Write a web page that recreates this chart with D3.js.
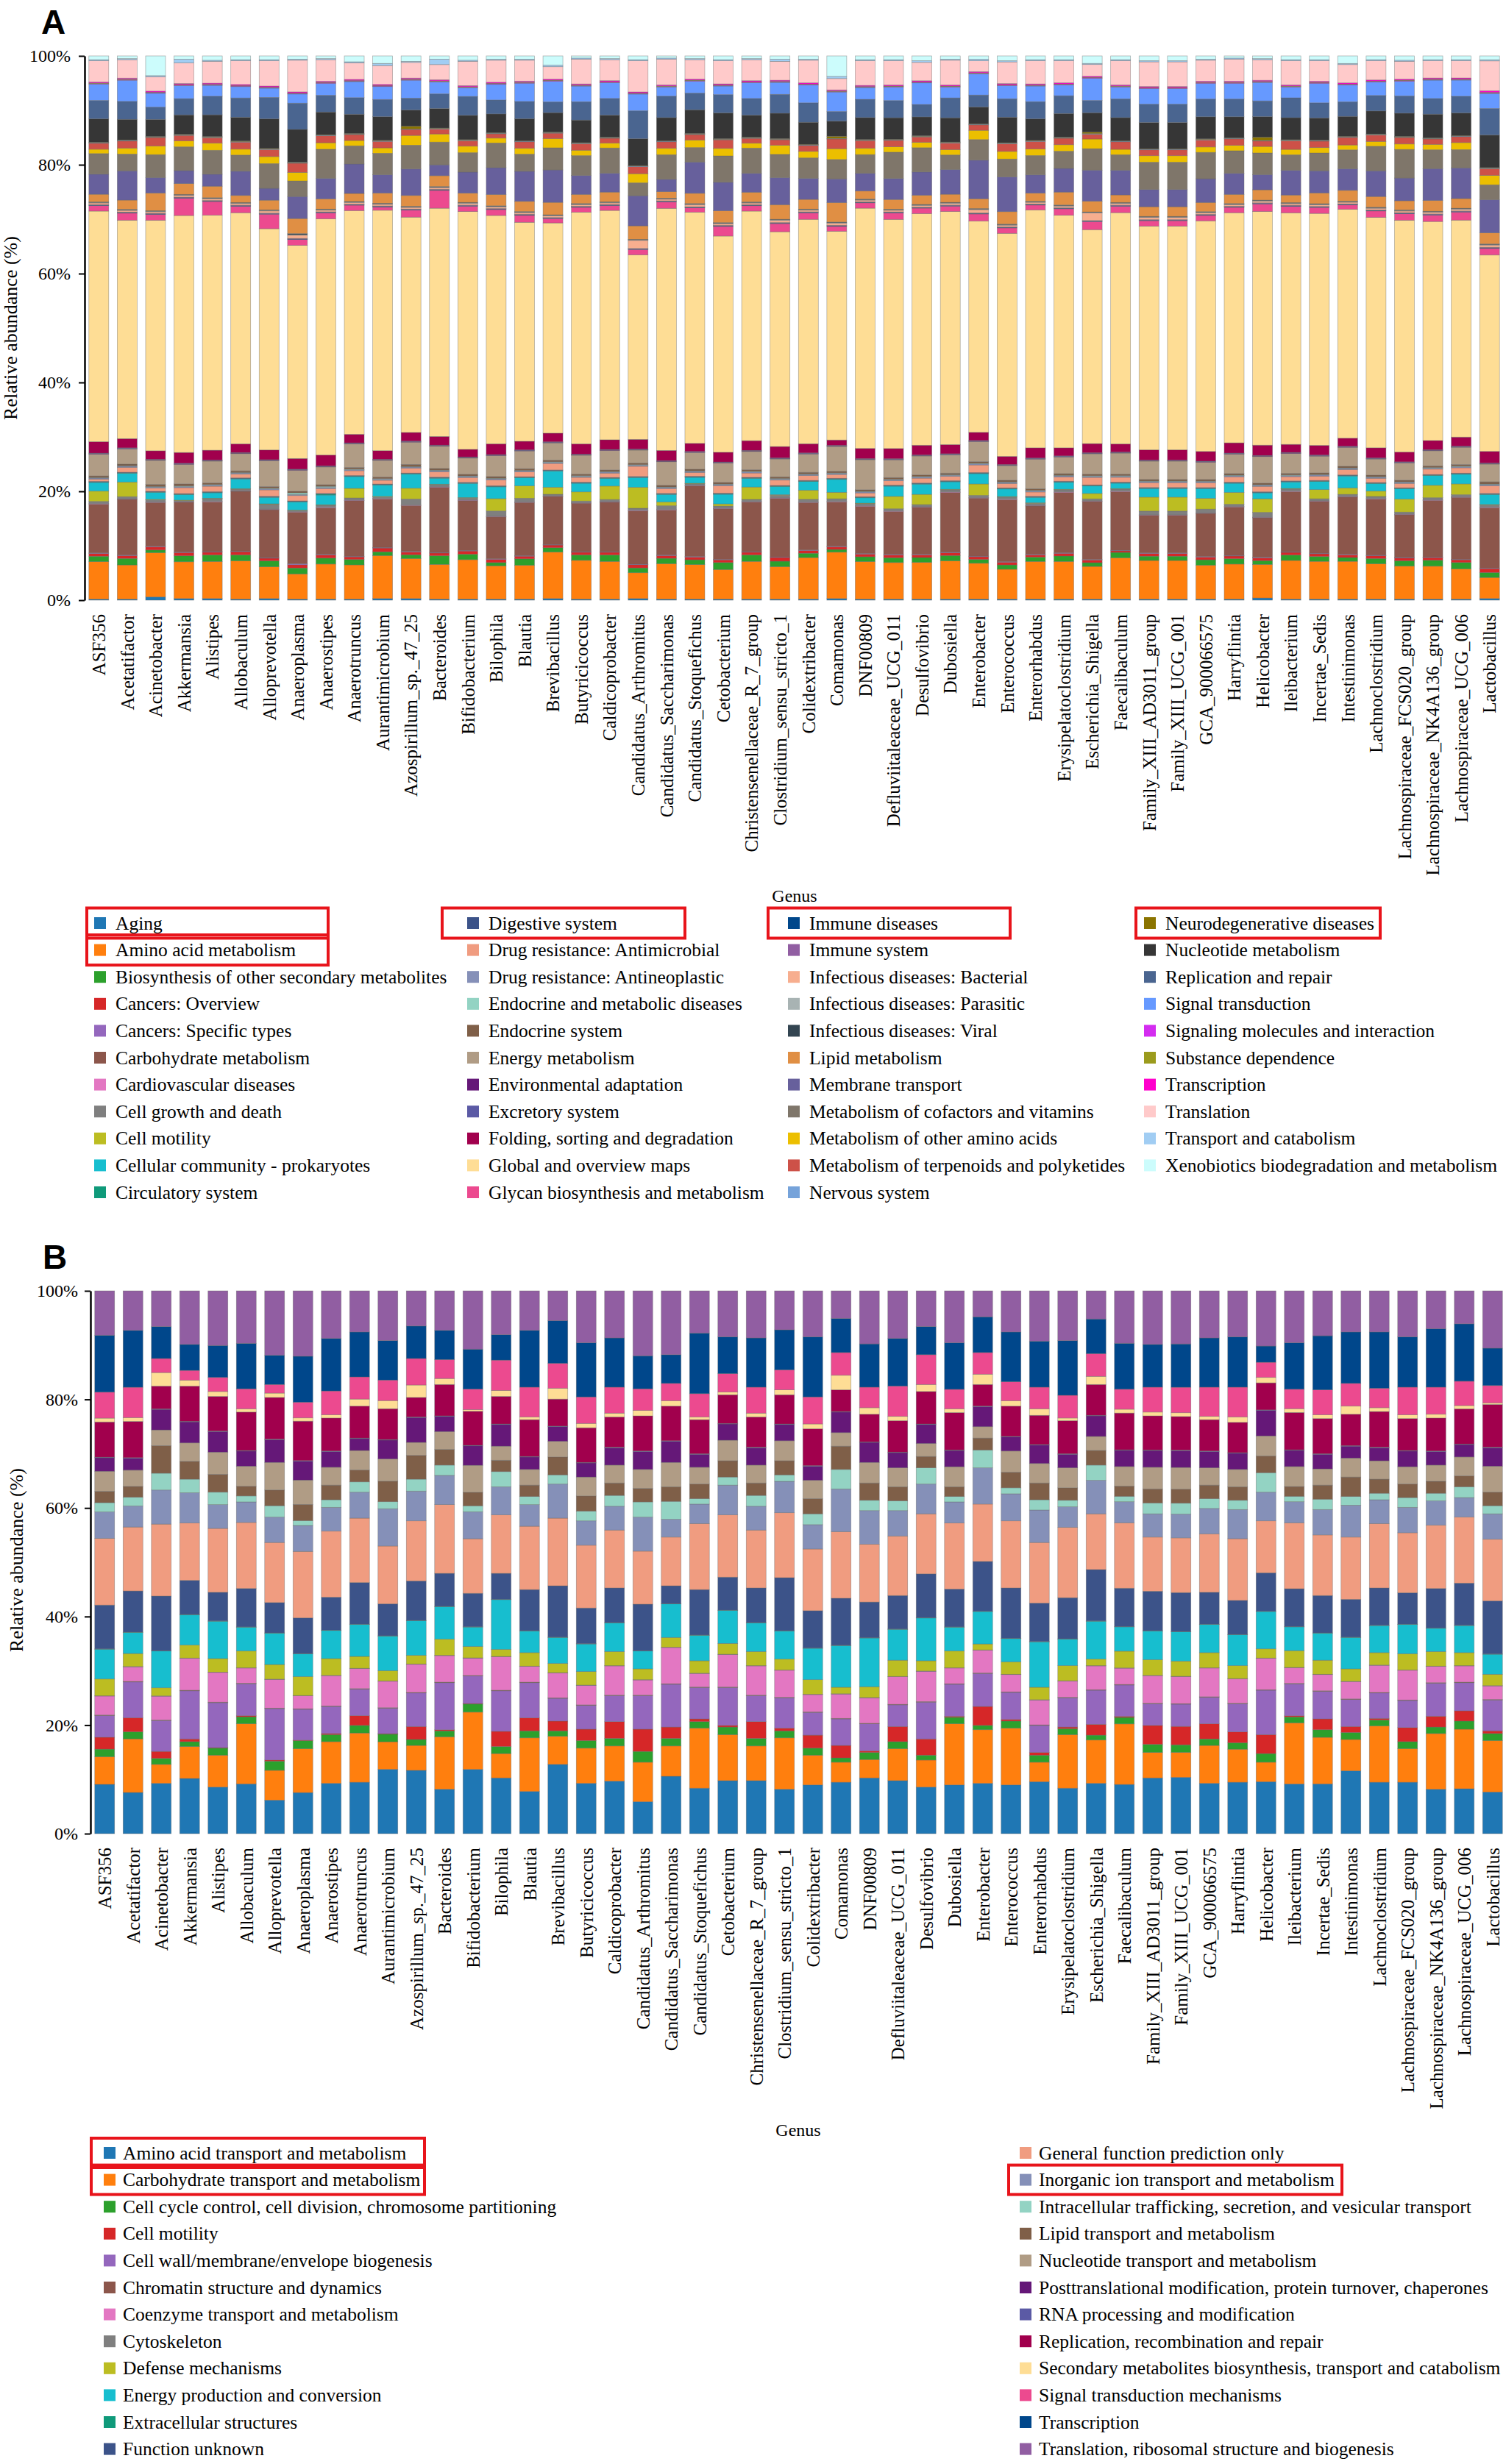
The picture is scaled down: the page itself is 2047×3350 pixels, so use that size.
<!DOCTYPE html>
<html>
<head>
<meta charset="utf-8">
<script src="https://cdn.jsdelivr.net/npm/d3@7"></script>
<style>
  body { margin: 0; background: #fff; }
  svg text { font-family: "Liberation Serif", "Times New Roman", serif; fill: #000; }
</style>
</head>
<body>
<svg id="chart" width="2047" height="3350"></svg>
<script>
// genera on the x axis (both panels)
var genera = ["ASF356","Acetatifactor","Acinetobacter","Akkermansia","Alistipes","Allobaculum","Alloprevotella","Anaeroplasma","Anaerostipes","Anaerotruncus","Aurantimicrobium","Azospirillum_sp._47_25","Bacteroides","Bifidobacterium","Bilophila","Blautia","Brevibacillus","Butyricicoccus","Caldicoprobacter","Candidatus_Arthromitus","Candidatus_Saccharimonas","Candidatus_Stoquefichus","Cetobacterium","Christensenellaceae_R_7_group","Clostridium_sensu_stricto_1","Colidextribacter","Comamonas","DNF00809","Defluviitaleaceae_UCG_011","Desulfovibrio","Dubosiella","Enterobacter","Enterococcus","Enterorhabdus","Erysipelatoclostridium","Escherichia_Shigella","Faecalibaculum","Family_XIII_AD3011_group","Family_XIII_UCG_001","GCA_900066575","Harryflintia","Helicobacter","Ileibacterium","Incertae_Sedis","Intestinimonas","Lachnoclostridium","Lachnospiraceae_FCS020_group","Lachnospiraceae_NK4A136_group","Lachnospiraceae_UCG_006","Lactobacillus"];

var tickValues = [0, 0.2, 0.4, 0.6, 0.8, 1];

/* ---------- panel A : KEGG level 2 ---------- */
var keggCategories = ["Aging","Amino acid metabolism","Biosynthesis of other secondary metabolites","Cancers: Overview","Cancers: Specific types","Carbohydrate metabolism","Cardiovascular diseases","Cell growth and death","Cell motility","Cellular community - prokaryotes","Circulatory system",
  "Digestive system","Drug resistance: Antimicrobial","Drug resistance: Antineoplastic","Endocrine and metabolic diseases","Endocrine system","Energy metabolism","Environmental adaptation","Excretory system","Folding, sorting and degradation","Global and overview maps","Glycan biosynthesis and metabolism",
  "Immune diseases","Immune system","Infectious diseases: Bacterial","Infectious diseases: Parasitic","Infectious diseases: Viral","Lipid metabolism","Membrane transport","Metabolism of cofactors and vitamins","Metabolism of other amino acids","Metabolism of terpenoids and polyketides","Nervous system",
  "Neurodegenerative diseases","Nucleotide metabolism","Replication and repair","Signal transduction","Signaling molecules and interaction","Substance dependence","Transcription","Translation","Transport and catabolism","Xenobiotics biodegradation and metabolism"];

var keggColors = ["#1f77b4","#ff7f0e","#2ca02c","#d62728","#9467bd","#8c564b","#e377c2","#7f7f7f","#bcbd22","#17becf","#0f9a7a",
  "#3c5389","#f09c80","#8590b8","#93d3c3","#7f5f48","#b09c85","#651878","#5b5aa5","#a1004d","#fedd95","#ec4a8f",
  "#00478b","#915ea2","#f7ae8f","#a8b3b3","#334551","#e08f44","#67609c","#7f766a","#ecbf00","#cd5148","#76a3da",
  "#8b7400","#363636","#4a6590","#6699ff","#d42cf0","#9b9b1d","#ff00cc","#ffcaca","#a1cdf3","#ccfcfc"];

var aging = [.2,.2,.6,.3,.3,.2,.3,.2,.2,.2,.3,.3,.2,.2,.2,.2,.3,.2,.2,.3,.2,.2,.2,.2,.2,.2,.3,.2,.2,.2,.2,.2,.2,.2,.2,.2,.2,.2,.2,.2,.2,.4,.2,.2,.2,.2,.2,.2,.2,.3];
var aminoAcid = [6.9,6.3,8.3,6.8,6.8,7.1,5.9,4.7,6.5,6.4,8.0,7.4,6.4,7.3,6.2,6.3,8.6,7.2,7.0,4.8,6.6,6.4,5.5,7.0,6.0,7.7,8.6,7.0,6.8,6.8,7.1,6.6,5.5,7.0,7.0,6.1,7.7,7.2,7.2,6.3,6.5,6.2,7.2,7.0,7.0,6.6,6.1,6.1,5.6,3.8];
var biosynthesis = [1.0,1.2,.5,1.1,1.2,1.1,1.1,1.1,1.1,1.0,.7,.7,1.6,1.0,.6,1.2,.8,1.0,1.2,.9,1.0,.9,1.3,1.2,1.0,.8,.5,.9,.9,.9,1.0,.7,.8,.8,1.0,.7,1.0,.8,.8,1.0,1.0,.7,1.0,.9,.7,1.0,1.0,1.1,1.2,.9];
var cancersOverview = [.5,.5,.6,.6,.5,.6,.5,.6,.6,.5,.7,.5,.5,.6,.6,.5,.5,.5,.5,.6,.5,.5,.5,.5,.7,.5,.5,.5,.5,.5,.5,.5,.5,.4,.5,.5,.3,.5,.5,.5,.5,.5,.5,.5,.5,.5,.5,.5,.5,.7];
var cancersSpecific = [.1,.1,.1,.1,.1,.1,.1,.2,.1,.1,.1,.1,.1,.1,.1,.1,.1,.1,.1,.1,.1,.1,.1,.1,.1,.1,.1,.1,.1,.1,.1,.1,.1,.1,.1,.1,.1,.1,.1,.1,.1,.1,.1,.1,.1,.1,.1,.1,.1,.1];
var carbohydrate = [9.0,10.3,8.2,9.2,9.1,11.1,8.9,9.6,8.6,10.4,9.0,8.5,12.0,9.2,7.8,9.9,8.9,9.0,9.2,9.9,8.4,13.1,9.4,9.2,10.8,8.8,8.2,8.8,8.0,8.7,11.1,10.7,11.4,9.0,11.2,10.8,10.9,7.0,7.0,8.0,9.0,7.3,11.2,9.6,10.6,10.5,7.9,10.5,11.5,10.9];
var cardiovascular = [.1,.1,.1,.1,.1,.1,.1,.1,.1,.1,.1,.1,.1,.1,.1,.1,.1,.1,.1,.1,.1,.1,.1,.1,.1,.1,.1,.1,.1,.1,.1,.1,.1,.1,.1,.1,.1,.1,.1,.1,.1,.1,.1,.1,.1,.1,.1,.1,.1,.1];
var cellGrowth = [.4,.4,.4,.2,.5,.3,.9,.2,.4,.4,.3,1.1,.4,.4,1.0,.7,.3,.3,.4,.4,.7,.3,.4,.4,.5,.5,.5,.4,.4,.4,.4,.4,.4,.4,.4,.4,.4,.7,.7,.7,.4,.9,.4,.4,.4,.4,.4,.4,.4,.4];
var cellMotilityA = [1.9,2.7,.1,.1,.1,.1,.1,.1,.1,1.8,.1,2.0,.1,.1,2.3,2.3,1.3,1.7,2.5,3.9,.7,.1,.4,2.3,.1,1.7,1.2,.1,2.3,1.9,.1,2.1,.1,.1,.1,1.0,.1,2.6,2.6,2.0,2.2,2.5,.1,1.7,1.2,1.0,2.4,2.3,2.0,.1];
var cellularCommunity = [1.6,1.6,1.3,1.0,1.0,1.8,1.2,1.5,1.8,2.2,2.1,2.6,1.1,2.6,2.2,1.5,3.0,1.6,1.4,1.8,1.4,1.1,1.8,1.6,1.5,1.6,2.4,1.0,1.9,1.9,1.4,1.9,1.4,1.0,1.3,1.4,1.0,1.6,1.6,1.8,1.7,1.1,1.2,1.5,2.2,1.4,1.9,1.8,1.8,1.8];
var circulatory = [.1,.1,.1,.1,.1,.1,.1,.1,.2,.1,.1,.1,.1,.1,.1,.1,.1,.1,.1,.1,.1,.1,.1,.1,.1,.1,.1,.1,.1,.1,.1,.1,.1,.1,.1,.1,.1,.1,.1,.1,.1,.1,.1,.1,.1,.1,.1,.1,.1,.1];
var digestive = [.1,.1,.1,.1,.1,.1,.1,.1,.1,.1,.1,.1,.1,.1,.1,.1,.1,.1,.1,.1,.1,.1,.1,.1,.1,.1,.1,.1,.1,.1,.1,.1,.1,.1,.1,.1,.1,.1,.1,.1,.1,.1,.1,.1,.1,.1,.1,.1,.1,.1];
var drugAntimicrobial = [.4,.9,.6,1.1,1.0,.7,1.2,1.0,.9,.9,.7,.9,1.0,.9,1.1,.9,1.2,.9,.8,1.9,.9,.7,1.4,.8,1.0,.9,.7,.7,.8,.9,.8,1.4,.8,.8,.8,1.4,.9,.9,.9,.9,1.0,1.0,.8,.8,1.0,.8,.8,1.0,1.0,1.4];
var drugAntineoplastic = [.2,.2,.2,.2,.2,.2,.2,.2,.2,.2,.2,.2,.2,.2,.2,.2,.2,.2,.2,.2,.2,.2,.2,.2,.2,.2,.2,.2,.2,.2,.2,.2,.2,.2,.2,.2,.2,.2,.2,.2,.2,.2,.2,.2,.2,.2,.2,.2,.2,.2];
var endocrineMetabolic = [.1,.1,.1,.1,.1,.1,.1,.3,.2,.1,.1,.1,.1,.1,.1,.1,.1,.1,.1,.1,.1,.1,.1,.1,.1,.1,.1,.1,.1,.1,.1,.1,.1,.1,.1,.1,.1,.1,.1,.1,.1,.1,.1,.1,.1,.1,.1,.1,.1,.1];
var endocrineSystem = [.3,.3,.4,.4,.3,.3,.3,.3,.3,.3,.3,.4,.3,.3,.3,.3,.3,.3,.3,.3,.3,.3,.3,.3,.3,.3,.3,.3,.3,.3,.3,.3,.3,.3,.3,.3,.3,.3,.3,.3,.3,.3,.3,.3,.3,.3,.3,.3,.3,.4];
var energyA = [4.0,2.8,4.5,3.6,4.0,3.2,4.8,3.9,3.3,4.4,3.1,4.1,4.1,3.0,3.9,3.3,3.2,3.5,3.6,2.4,4.4,3.1,3.6,3.4,3.3,3.4,4.6,5.6,3.3,3.5,3.4,3.7,2.7,5.5,3.1,3.8,3.9,3.4,3.4,3.2,3.6,4.9,3.7,3.1,3.5,3.0,3.2,2.8,3.2,3.2];
var environmental = [.1,.1,.1,.1,.1,.1,.1,.1,.1,.1,.1,.1,.1,.1,.1,.1,.1,.1,.1,.1,.1,.1,.1,.1,.1,.1,.1,.1,.1,.1,.1,.1,.1,.1,.1,.1,.1,.1,.1,.1,.1,.1,.1,.1,.1,.1,.1,.1,.1,.1];
var excretory = [.1,.1,.1,.1,.1,.1,.1,.1,.1,.1,.1,.1,.1,.1,.1,.1,.1,.1,.1,.1,.1,.1,.1,.1,.1,.1,.1,.1,.1,.1,.1,.1,.1,.1,.1,.1,.1,.1,.1,.1,.1,.1,.1,.1,.1,.1,.1,.1,.1,.1];
var folding = [2.1,1.7,1.6,2.0,1.8,1.6,1.8,2.0,2.0,1.6,1.6,1.6,1.6,1.4,2.0,1.6,1.6,1.9,1.8,1.8,1.9,1.5,1.8,1.8,2.1,1.7,1.0,1.9,1.9,1.8,1.7,1.5,1.5,1.9,1.5,1.7,1.5,1.9,1.9,1.8,1.9,1.9,1.5,1.8,1.5,1.9,1.8,1.7,1.7,2.1];
var globalMaps = [42.5,40.3,43.2,43.8,43.1,42.9,41.1,39.7,43.8,41.8,44.7,39.8,42.1,44.0,42.5,40.8,38.9,43.0,42.6,34.3,45.1,42.9,40.2,42.6,39.7,41.6,38.7,44.8,42.6,42.9,43.3,38.9,41.1,44.2,43.2,39.9,43.1,41.7,41.7,42.8,42.7,43.1,43.1,43.0,42.4,43.1,42.9,40.6,40.3,35.5];
var glycan = [1.0,1.3,1.1,3.2,2.5,1.2,2.7,1.1,1.1,1.0,.6,1.3,3.3,1.0,1.1,1.3,.8,.9,.9,1.0,1.2,.8,1.8,1.0,1.5,1.2,.9,1.0,1.2,1.0,1.0,1.3,1.0,.9,1.2,1.5,1.2,1.0,1.0,1.0,1.0,1.4,1.2,1.1,.8,1.2,1.2,1.2,1.5,1.2];
var immuneDiseases = [.1,.1,.1,.1,.1,.1,.1,.1,.1,.1,.1,.1,.1,.1,.1,.1,.1,.1,.1,.1,.1,.1,.1,.1,.1,.1,.1,.1,.1,.1,.1,.1,.1,.1,.1,.1,.1,.1,.1,.1,.1,.1,.1,.1,.1,.1,.1,.1,.1,.1];
var immuneSystem = [.1,.1,.1,.1,.1,.1,.1,.1,.1,.1,.1,.1,.1,.1,.1,.1,.1,.1,.1,.1,.1,.1,.1,.1,.1,.1,.1,.1,.1,.1,.1,.1,.1,.1,.1,.1,.1,.1,.1,.1,.1,.1,.1,.1,.1,.1,.1,.1,.1,.1];
var infBacterial = [.3,.3,.3,.3,.3,.3,.4,.6,.3,.3,.3,.3,.3,.3,.3,.3,.3,.3,.3,1.5,.3,.4,.3,.3,.4,.3,.4,.3,.3,.3,.3,.6,.3,.3,.3,1.4,.3,.4,.4,.3,.3,.3,.3,.3,.3,.3,.3,.3,.3,.4];
var infParasitic = [.1,.1,.1,.1,.1,.1,.1,.1,.1,.1,.1,.1,.1,.1,.1,.1,.1,.1,.1,.1,.1,.1,.1,.1,.1,.1,.1,.1,.1,.1,.1,.1,.1,.1,.1,.1,.1,.1,.1,.1,.1,.1,.1,.1,.1,.1,.1,.1,.1,.1];
var infViral = [.1,.1,.1,.1,.1,.1,.1,.2,.1,.1,.1,.1,.1,.1,.1,.1,.1,.1,.1,.1,.1,.1,.1,.1,.1,.1,.1,.1,.1,.1,.1,.1,.1,.1,.1,.1,.1,.1,.1,.1,.1,.1,.1,.1,.1,.1,.1,.1,.1,.1];
var lipidA = [1.4,1.7,3.3,2.0,2.1,1.3,1.8,2.8,1.9,1.5,1.9,2.0,2.0,1.7,2.1,1.9,2.3,1.7,1.8,2.5,1.2,1.9,2.2,1.8,2.7,1.8,3.6,1.5,1.8,1.7,1.5,1.8,2.3,1.5,2.4,2.0,1.4,1.8,1.8,1.7,1.7,1.9,1.4,2.0,2.0,2.0,1.7,2.0,1.8,2.0];
var membrane = [3.7,5.4,2.9,2.4,2.2,4.5,2.2,4.1,3.8,5.5,3.4,4.9,2.0,3.9,5.0,5.6,6.0,3.5,3.5,5.6,2.3,5.8,5.3,3.5,5.0,3.9,4.4,3.3,3.9,4.3,4.6,7.1,6.4,3.4,4.4,5.8,4.6,3.2,3.2,4.4,3.9,2.8,4.6,4.1,4.0,4.8,4.2,5.9,5.7,6.0];
var cofactors = [3.8,3.1,4.3,4.4,4.4,3.0,4.6,2.9,5.4,3.4,4.0,4.4,4.2,3.6,4.6,3.2,4.1,3.7,4.7,2.4,4.6,2.7,4.9,4.7,4.3,3.8,3.6,3.5,4.9,4.5,2.7,3.8,3.3,3.6,3.2,4.0,2.9,5.1,5.1,4.9,4.2,4.0,2.9,3.3,3.5,4.6,5.3,3.5,3.4,2.7];
var otherAminoAcids = [.8,1.1,1.6,1.1,1.3,1.1,1.3,1.6,1.2,1.0,1.0,1.8,1.5,1.2,.9,1.1,1.7,1.0,.9,1.7,1.2,1.4,1.4,.9,1.7,1.2,2.0,1.2,1.0,1.0,1.0,1.7,1.4,1.2,1.2,1.8,1.0,1.2,1.2,1.0,1.0,1.2,1.0,1.0,.9,.9,1.0,1.0,1.3,1.7];
var terpenoids = [1.1,1.3,1.6,1.0,1.0,1.3,1.3,1.7,1.3,1.1,1.2,1.1,.9,1.0,.8,1.2,1.0,1.2,.9,1.3,1.2,1.0,1.6,.9,1.0,1.1,1.8,1.4,1.2,1.0,1.2,1.0,1.4,1.4,1.2,.9,1.4,1.1,1.1,1.3,1.2,1.0,1.6,1.2,1.4,1.2,1.2,1.0,1.1,1.2];
var nervous = [.1,.1,.1,.1,.1,.1,.1,.1,.1,.1,.1,.1,.1,.1,.1,.1,.1,.1,.1,.1,.1,.1,.1,.1,.1,.1,.1,.1,.1,.1,.1,.1,.1,.1,.1,.1,.1,.1,.1,.1,.1,.1,.1,.1,.1,.1,.1,.1,.1,.1];
var neurodegenerative = [.1,.1,.1,.1,.1,.1,.1,.1,.1,.1,.1,.5,.1,.1,.1,.1,.1,.1,.1,.1,.1,.1,.1,.1,.1,.1,.4,.1,.1,.1,.1,.1,.1,.1,.1,.3,.1,.1,.1,.1,.1,.6,.1,.1,.1,.1,.1,.1,.1,.1];
var nucleotideA = [4.3,3.8,3.2,3.6,4.0,4.4,5.5,6.1,4.2,3.6,4.4,3.0,3.6,4.5,3.5,4.1,3.6,4.2,4.1,5.0,4.3,4.4,4.8,4.1,4.7,4.1,2.8,4.1,4.0,3.5,4.5,3.1,4.7,4.0,4.4,3.6,4.3,4.9,4.9,4.1,3.9,3.8,4.1,4.1,3.7,4.3,4.3,4.4,4.2,5.9];
var replicationA = [3.4,3.3,2.3,3.0,3.4,3.6,4.0,4.9,3.1,3.1,3.2,2.2,2.7,3.5,2.6,3.2,2.0,3.4,3.1,5.2,4.0,3.1,3.4,3.1,3.5,3.6,1.8,3.4,3.2,2.3,3.7,2.2,3.4,3.2,3.3,2.3,3.5,3.4,3.4,3.3,3.3,2.9,3.7,2.8,2.7,2.9,3.2,2.9,3.1,4.8];
var signalTransduction = [3.0,3.9,2.6,2.4,2.0,2.1,1.7,1.7,2.2,3.0,2.4,3.3,2.2,1.6,2.9,3.4,3.8,2.9,2.9,3.1,1.7,2.2,1.6,2.9,2.2,3.3,3.6,2.2,2.5,4.0,2.0,3.9,2.4,2.9,2.0,4.1,2.2,2.9,2.9,2.9,2.9,3.4,2.0,3.6,3.1,2.5,2.7,3.4,3.0,2.7];
var signalingMolecules = [.1,.1,.1,.1,.1,.1,.1,.1,.1,.1,.1,.1,.1,.1,.1,.1,.1,.1,.1,.1,.1,.1,.1,.1,.1,.1,.1,.1,.1,.1,.1,.1,.1,.1,.1,.1,.1,.1,.1,.1,.1,.1,.1,.1,.1,.1,.1,.1,.1,.1];
var substance = [.1,.1,.1,.1,.1,.1,.1,.1,.1,.1,.1,.1,.1,.1,.1,.1,.1,.1,.1,.1,.1,.1,.1,.1,.1,.1,.1,.1,.1,.1,.1,.1,.1,.1,.1,.1,.1,.1,.1,.1,.1,.1,.1,.1,.1,.1,.1,.1,.1,.1];
var transcriptionA = [.2,.2,.2,.2,.2,.2,.2,.2,.2,.2,.2,.2,.2,.2,.2,.2,.2,.2,.2,.2,.2,.2,.2,.2,.2,.2,.2,.2,.2,.2,.2,.2,.2,.2,.2,.2,.2,.2,.2,.2,.2,.2,.2,.2,.2,.2,.2,.2,.2,.3];
var translationA = [3.9,3.4,2.7,3.8,4.0,4.4,4.7,5.9,4.0,3.1,3.5,2.9,2.8,4.5,4.1,3.9,2.3,4.6,3.9,5.8,4.8,3.6,4.3,3.9,3.5,4.2,2.1,4.6,4.5,3.4,4.6,2.0,4.0,4.3,4.1,2.2,4.5,4.6,4.6,3.9,4.1,3.8,4.5,3.8,3.4,3.6,3.3,3.2,3.2,5.4];
var transport = [.2,.2,.2,.7,.2,.2,.2,.2,.2,.2,.4,.2,1.0,.2,.2,.2,.3,.2,.2,.2,.2,.2,.2,.2,.4,.2,.4,.2,.2,.3,.2,.3,.2,.2,.2,.2,.2,.2,.2,.2,.2,.2,.2,.2,.2,.2,.2,.2,.2,.2];
var xenobiotics = [.7,.5,3.7,.6,.8,.7,.7,.6,.5,1.1,1.4,1.0,.6,.8,.6,.6,1.7,.4,.5,.7,.4,.5,.7,.5,.6,.6,3.8,.7,.7,.9,.6,.6,.9,.7,.7,1.4,.7,.9,.9,.6,.4,.5,.7,.7,1.4,.7,.8,.7,.7,.7];

var keggValues = [aging, aminoAcid, biosynthesis, cancersOverview, cancersSpecific, carbohydrate, cardiovascular, cellGrowth, cellMotilityA, cellularCommunity, circulatory,
  digestive, drugAntimicrobial, drugAntineoplastic, endocrineMetabolic, endocrineSystem, energyA, environmental, excretory, folding, globalMaps, glycan,
  immuneDiseases, immuneSystem, infBacterial, infParasitic, infViral, lipidA, membrane, cofactors, otherAminoAcids, terpenoids, nervous,
  neurodegenerative, nucleotideA, replicationA, signalTransduction, signalingMolecules, substance, transcriptionA, translationA, transport, xenobiotics];

/* ---------- panel B : COG functions ---------- */
var cogCategories = ["Amino acid transport and metabolism","Carbohydrate transport and metabolism","Cell cycle control, cell division, chromosome partitioning","Cell motility","Cell wall/membrane/envelope biogenesis","Chromatin structure and dynamics","Coenzyme transport and metabolism","Cytoskeleton","Defense mechanisms","Energy production and conversion","Extracellular structures","Function unknown",
  "General function prediction only","Inorganic ion transport and metabolism","Intracellular trafficking, secretion, and vesicular transport","Lipid transport and metabolism","Nucleotide transport and metabolism","Posttranslational modification, protein turnover, chaperones","RNA processing and modification","Replication, recombination and repair","Secondary metabolites biosynthesis, transport and catabolism","Signal transduction mechanisms","Transcription","Translation, ribosomal structure and biogenesis"];

var cogColors = ["#1f77b4","#ff7f0e","#2ca02c","#d62728","#9467bd","#8c564b","#e377c2","#7f7f7f","#bcbd22","#17becf","#0f9a7a","#3c5389",
  "#f09c80","#8590b8","#93d3c3","#7f5f48","#b09c85","#651878","#5b5aa5","#a1004d","#fedd95","#ec4a8f","#00478b","#915ea2"];

var aaTransport = [9.1,7.6,9.3,10.2,8.6,9.2,6.2,7.6,9.3,9.5,11.9,11.7,8.2,11.9,10.3,7.8,12.8,9.3,9.7,5.9,10.6,8.4,9.8,9.8,8.2,9.0,9.5,10.3,9.8,8.6,9.0,9.3,9.0,9.6,8.4,9.3,9.1,10.3,10.4,9.3,9.5,9.6,9.2,9.2,11.6,9.5,9.5,8.2,8.3,7.7];
var carbTransport = [5.1,9.9,3.5,5.9,5.9,11.1,5.5,8.1,7.7,9.1,5.1,4.6,9.7,10.6,4.5,9.9,5.2,6.5,6.5,7.3,5.6,11.1,8.5,6.4,9.5,5.5,3.7,3.4,5.9,5.0,11.3,9.9,10.5,3.6,9.9,8.0,11.2,4.7,4.6,7.0,6.1,3.6,11.3,8.6,5.8,10.4,6.2,10.3,11.0,9.5];
var cellCycle = [1.4,1.3,1.1,.9,1.3,1.3,1.7,1.5,1.3,1.4,1.4,1.1,1.1,1.5,1.3,1.3,1.0,1.4,1.4,2.0,1.4,1.2,1.4,1.4,1.3,1.3,.8,1.3,1.3,.9,1.2,.8,1.3,1.3,1.1,.9,1.2,1.5,1.4,1.2,1.2,1.6,1.1,1.4,1.3,1.1,1.3,1.2,1.5,1.3];
var cellMotilityB = [2.2,2.6,1.3,.5,.1,.2,.2,.1,.2,1.8,.1,2.4,.2,.1,2.8,2.4,1.8,2.1,3.1,4.1,2.1,.5,.3,3.1,.5,2.4,2.3,.3,2.8,3.0,.2,3.5,.3,.5,.3,2.0,.2,3.5,3.4,2.8,2.0,3.5,.2,2.0,1.1,.3,2.6,2.0,1.9,.5];
var cellWall = [4.0,6.6,5.7,8.9,8.3,5.9,9.5,5.7,5.0,4.9,4.7,6.2,8.7,5.1,7.5,6.5,4.2,4.4,4.8,6.2,7.9,5.8,7.0,4.8,5.6,4.2,4.9,5.0,4.0,6.8,5.9,6.1,5.0,5.0,5.4,6.3,5.8,4.0,4.1,4.9,5.2,8.2,5.9,5.1,5.0,4.7,5.0,6.1,5.2,5.7];
var chromatin = [.1,.1,.1,.1,.1,.1,.1,.1,.1,.1,.1,.1,.1,.1,.1,.1,.1,.1,.1,.1,.1,.1,.1,.1,.1,.1,.1,.1,.1,.1,.1,.1,.1,.1,.1,.1,.1,.1,.1,.1,.1,.1,.1,.1,.1,.1,.1,.1,.1,.1];
var coenzyme = [3.5,2.7,4.4,5.9,5.5,2.8,5.3,2.4,5.6,3.7,4.9,5.2,4.9,3.2,6.2,2.9,4.6,3.6,5.4,2.8,6.7,2.5,6.0,5.4,5.0,3.2,4.5,4.7,5.1,5.6,2.9,4.2,3.2,4.6,3.0,4.4,3.0,5.1,5.0,5.3,4.5,5.8,2.9,3.0,3.2,5.0,5.5,3.0,3.0,2.5];
var cytoskeleton = [.05,.05,.05,.05,.05,.05,.05,.05,.05,.05,.05,.05,.05,.05,.05,.05,.05,.05,.05,.05,.05,.05,.05,.05,.05,.05,.05,.05,.05,.05,.05,.05,.05,.05,.05,.05,.05,.05,.05,.05,.05,.05,.05,.05,.05,.05,.05,.05,.05,.05];
var defense = [3.1,2.4,1.5,2.4,2.5,3.1,2.7,3.5,3.1,2.2,1.9,1.6,3.0,2.1,1.3,2.5,1.7,2.5,2.6,2.0,1.8,2.3,2.0,2.6,2.0,2.7,1.2,2.0,3.0,1.9,3.1,1.1,2.3,2.3,2.8,1.2,3.1,2.9,2.8,2.8,2.4,1.7,3.1,2.6,2.3,2.3,3.0,2.7,2.4,2.1];
var energyProduction = [5.5,3.9,6.8,5.6,6.9,4.4,5.8,4.2,5.2,5.9,6.4,6.4,6.0,3.6,9.2,4.0,4.8,5.1,5.3,3.3,6.2,4.7,6.1,5.3,5.2,5.8,7.7,9.0,5.7,7.9,4.4,6.0,4.3,8.4,4.9,7.0,4.5,5.3,5.4,5.2,5.7,6.9,4.4,5.0,5.8,5.0,5.4,4.3,5.0,3.7];
var extracellular = [.05,.05,.05,.05,.05,.05,.05,.05,.05,.05,.05,.05,.05,.05,.05,.05,.05,.05,.05,.05,.05,.05,.05,.05,.05,.05,.05,.05,.05,.05,.05,.05,.05,.05,.05,.05,.05,.05,.05,.05,.05,.05,.05,.05,.05,.05,.05,.05,.05,.05];
var functionUnknown = [8.1,7.6,10.1,6.3,5.3,7.1,5.6,6.6,6.1,7.7,5.9,7.3,6.1,6.2,4.8,7.6,9.5,6.6,6.4,8.6,3.3,8.4,6.1,6.4,9.8,6.9,8.7,6.6,6.2,8.1,7.0,9.2,9.3,7.1,7.6,9.5,7.1,7.3,7.2,5.9,6.3,7.1,7.0,6.9,7.0,6.9,5.8,7.3,7.8,9.8];
var generalFunction = [12.3,11.8,13.3,10.6,11.8,12.2,11.1,12.3,12.2,11.9,10.7,11.1,12.7,10.1,10.8,11.7,12.5,11.6,10.7,9.8,9.0,12.2,11.5,10.7,12.0,11.4,12.3,10.7,11.0,11.1,12.2,10.6,12.4,11.2,13.0,10.3,12.1,10.0,10.1,10.8,11.4,9.6,12.2,11.2,11.5,11.9,11.1,11.7,12.2,11.4];
var inorganicIon = [4.9,3.9,6.3,5.6,4.4,3.8,4.7,4.8,4.4,4.8,6.9,5.5,5.4,5.0,5.2,4.0,6.3,4.5,4.4,6.3,3.3,3.6,5.5,4.4,5.8,4.5,7.9,6.2,4.7,5.5,3.9,6.7,5.0,6.0,3.8,6.2,3.9,4.3,4.4,4.7,5.4,5.3,3.9,4.7,5.9,4.4,4.7,4.5,3.6,4.7];
var intracellular = [1.7,1.6,3.1,2.5,2.3,1.1,2.1,.9,1.4,1.9,1.3,2.2,1.9,1.1,2.8,1.5,1.7,1.8,2.0,2.8,3.3,1.0,1.5,2.0,1.2,2.0,3.6,1.9,1.8,3.0,1.0,3.3,1.1,1.9,1.2,2.8,1.0,2.0,2.0,1.8,1.7,3.6,1.0,1.9,1.6,1.2,1.8,1.4,2.0,1.5];
var lipidB = [2.1,2.0,5.1,3.3,3.3,1.8,2.9,3.0,2.7,2.2,3.8,4.4,2.9,2.5,2.1,2.1,3.3,2.8,2.3,2.5,2.7,2.7,3.0,2.3,2.6,2.8,4.3,3.2,2.6,2.1,1.8,2.2,2.9,3.1,2.3,2.7,1.9,2.6,2.6,2.5,2.5,3.1,1.8,2.6,3.6,2.6,2.5,2.2,2.0,2.5];
var nucleotideB = [3.7,3.0,2.9,3.4,4.1,3.7,5.1,4.5,3.3,3.6,4.1,2.4,3.3,5.0,2.6,2.9,2.9,3.5,3.3,3.5,4.5,3.1,3.8,3.3,3.7,3.4,2.5,3.8,3.5,2.4,3.7,2.1,3.9,3.6,3.7,2.6,3.6,4.0,4.0,3.2,3.2,3.7,3.7,3.0,3.5,3.4,3.2,3.0,3.5,4.8];
var posttranslational = [2.5,2.2,3.8,3.9,3.8,2.8,4.2,3.5,2.9,2.2,3.5,4.6,2.8,3.6,4.0,2.3,2.7,2.6,3.2,3.3,3.9,2.4,3.0,3.2,3.0,2.6,3.8,3.7,2.8,3.5,3.0,3.7,2.6,3.4,2.5,3.8,3.0,3.1,3.1,3.0,3.0,4.7,3.0,2.7,2.2,2.4,2.9,2.5,2.3,3.4];
var rnaProcessing = [.1,.1,.1,.1,.1,.1,.1,.1,.1,.1,.1,.1,.1,.1,.1,.1,.1,.1,.1,.1,.1,.1,.1,.1,.1,.1,.1,.1,.1,.1,.1,.1,.1,.1,.1,.1,.1,.1,.1,.1,.1,.1,.1,.1,.1,.1,.1,.1,.1,.1];
var replicationB = [6.5,6.7,4.2,6.5,6.4,7.1,7.7,7.3,6.1,5.9,5.7,3.6,5.8,6.3,5.1,6.8,5.0,6.4,5.6,6.5,6.4,6.3,5.3,5.6,5.4,6.8,4.0,5.1,5.8,6.0,6.9,4.0,5.6,5.4,6.1,5.7,6.8,6.3,6.2,5.8,5.6,5.0,6.9,6.5,5.8,6.6,5.9,6.1,6.5,7.9];
var secondaryMetabolites = [.7,.7,2.5,1.1,.9,.6,.8,.6,.6,1.3,1.5,2.3,1.1,.3,1.1,.5,2.0,.8,.7,1.0,1.0,.5,.5,.7,.9,.9,2.7,1.2,.8,1.3,.7,1.9,1.0,1.2,.5,1.5,.7,.7,.7,.6,1.0,1.0,.7,.7,1.5,.7,.7,.7,.6,.3];
var signalMechanisms = [4.8,5.6,2.6,1.8,2.6,3.7,1.6,2.9,4.4,4.1,3.8,4.9,3.5,3.8,5.6,5.5,4.6,4.9,4.8,4.0,3.2,4.3,3.4,4.8,3.7,5.0,4.2,3.8,5.6,5.5,3.6,4.0,3.5,4.0,4.2,4.2,3.7,4.6,4.7,5.4,5.5,2.8,3.6,4.6,4.2,3.6,5.1,5.0,4.5,3.2];
var transcriptionB = [10.5,10.5,5.9,4.8,5.9,8.4,5.4,8.5,9.7,8.3,7.3,6.0,5.4,7.4,4.7,10.5,7.9,10.0,9.1,6.1,5.3,11.2,6.8,9.1,7.4,11.1,6.3,8.0,8.8,5.2,8.6,6.6,9.2,8.5,10.1,6.4,8.5,7.9,8.0,9.1,9.3,3.0,8.6,10.0,9.5,10.4,9.3,10.8,10.6,6.9];
var translationB = [8.2,7.3,6.6,9.9,10.1,9.7,11.9,12.1,8.8,7.6,9.2,6.5,7.3,10.8,8.1,7.3,5.5,9.6,8.7,12.0,11.8,7.8,8.5,8.7,7.2,8.5,5.1,9.8,8.8,6.6,9.6,4.8,7.6,9.3,9.2,5.2,9.7,9.9,9.8,8.7,8.5,10.2,9.6,8.3,7.6,7.6,8.5,7.0,6.1,10.6];

var cogValues = [aaTransport, carbTransport, cellCycle, cellMotilityB, cellWall, chromatin, coenzyme, cytoskeleton, defense, energyProduction, extracellular, functionUnknown,
  generalFunction, inorganicIon, intracellular, lipidB, nucleotideB, posttranslational, rnaProcessing, replicationB, secondaryMetabolites, signalMechanisms, transcriptionB, translationB];

var svg = d3.select("#chart");

function buildRows(keys, values) {
  return genera.map(function(g, i) {
    var row = {genus: g};
    keys.forEach(function(k, j) { row[k] = values[j][i]; });
    return row;
  });
}

function drawPanel(p) {
  var rows = buildRows(p.keys, p.values);
  var stacked = d3.stack().keys(p.keys).offset(d3.stackOffsetExpand)(rows);
  var color = d3.scaleOrdinal().domain(p.keys).range(p.colors);

  var x = d3.scaleBand().domain(genera).range([p.left, p.right]).paddingInner(0.3).paddingOuter(0.15);
  var y = d3.scaleLinear().domain([0, 1]).range([p.bottom, p.top]);

  // panel letter
  svg.append("text").attr("x", p.letterX).attr("y", p.letterY)
    .style("font-family", "'Liberation Sans', Arial, sans-serif")
    .style("font-weight", "bold").style("font-size", "46px").text(p.letter);

  // stacked bars
  svg.append("g").selectAll("g").data(stacked).join("g")
    .attr("fill", function(d) { return color(d.key); })
    .selectAll("rect").data(function(d) { return d; }).join("rect")
    .attr("x", function(d) { return x(d.data.genus); })
    .attr("y", function(d) { return y(d[1]); })
    .attr("height", function(d) { return y(d[0]) - y(d[1]); })
    .attr("width", x.bandwidth())
    .attr("stroke", "#666").attr("stroke-width", 0.7).attr("stroke-opacity", 0.55);

  // y axis
  var yAxis = svg.append("g").attr("transform", "translate(" + p.axisX + ",0)")
    .call(d3.axisLeft(y).tickValues(tickValues).tickFormat(d3.format(".0%"))
      .tickSize(8).tickSizeOuter(0).tickPadding(p.tickPad));
  yAxis.select(".domain").attr("stroke-width", 2.5);
  yAxis.selectAll(".tick line").attr("stroke-width", 2);
  yAxis.selectAll("text").style("font-family", "'Liberation Serif', serif").style("font-size", "24px");

  svg.append("text")
    .attr("transform", "translate(" + p.ylabX + "," + p.ylabY + ") rotate(-90)")
    .attr("text-anchor", "middle").attr("dominant-baseline", "central")
    .style("font-size", "26px").text("Relative abundance (%)");

  // x axis with rotated genus names
  var xAxis = svg.append("g").attr("transform", "translate(0," + p.bottom + ")")
    .call(d3.axisBottom(x).tickSize(0));
  xAxis.select(".domain").remove();
  xAxis.selectAll("text")
    .attr("transform", "rotate(-90)")
    .attr("x", -19).attr("y", 0).attr("dy", "0.35em")
    .style("text-anchor", "end")
    .style("font-family", "'Liberation Serif', serif").style("font-size", "25px");

  svg.append("text").attr("x", p.genusX).attr("y", p.genusY)
    .attr("text-anchor", "middle").style("font-size", "24px").text("Genus");

  // legend
  var legend = svg.append("g").selectAll("g").data(p.keys).join("g")
    .attr("transform", function(d, i) {
      var col = Math.floor(i / p.perCol), row = i % p.perCol;
      return "translate(" + p.colX[col] + "," + (p.legendY + row * p.rowGap) + ")";
    });
  legend.append("rect").attr("x", 0).attr("y", -8).attr("width", 16).attr("height", 16)
    .attr("fill", function(d) { return color(d); });
  legend.append("text").attr("x", p.textGap).attr("y", 0).attr("dominant-baseline", "central")
    .style("font-size", "25.5px").text(function(d) { return d; });

  // red highlight boxes
  p.boxes.forEach(function(b) {
    var i = p.keys.indexOf(b.key);
    var row = i % p.perCol;
    svg.append("rect")
      .attr("x", b.x0).attr("y", p.legendY + row * p.rowGap - p.boxH / 2)
      .attr("width", b.x1 - b.x0).attr("height", p.boxH)
      .attr("fill", "none").attr("stroke", "#e8141b").attr("stroke-width", 4);
  });
}

drawPanel({
  keys: keggCategories, values: keggValues, colors: keggColors,
  left: 115, right: 2044, top: 76, bottom: 816, axisX: 115, tickPad: 11,
  letter: "A", letterX: 56, letterY: 46,
  ylabX: 14, ylabY: 446,
  genusX: 1080, genusY: 1226,
  legendY: 1255, rowGap: 36.6, perCol: 11, colX: [128, 635, 1071, 1555], textGap: 29,
  boxH: 41,
  boxes: [
    {key: "Aging", x0: 118, x1: 446},
    {key: "Amino acid metabolism", x0: 118, x1: 446},
    {key: "Digestive system", x0: 601, x1: 931},
    {key: "Immune diseases", x0: 1044, x1: 1373},
    {key: "Neurodegenerative diseases", x0: 1544, x1: 1876}
  ]
});

drawPanel({
  keys: cogCategories, values: cogValues, colors: cogColors,
  left: 123, right: 2048, top: 1755, bottom: 2493, axisX: 123, tickPad: 9,
  letter: "B", letterX: 58, letterY: 1725,
  ylabX: 22, ylabY: 2121,
  genusX: 1085, genusY: 2904,
  legendY: 2927, rowGap: 36.6, perCol: 12, colX: [141, 1386], textGap: 26,
  boxH: 40,
  boxes: [
    {key: "Amino acid transport and metabolism", x0: 124, x1: 577},
    {key: "Carbohydrate transport and metabolism", x0: 124, x1: 577},
    {key: "Inorganic ion transport and metabolism", x0: 1371, x1: 1824}
  ]
});
</script>
</body>
</html>
